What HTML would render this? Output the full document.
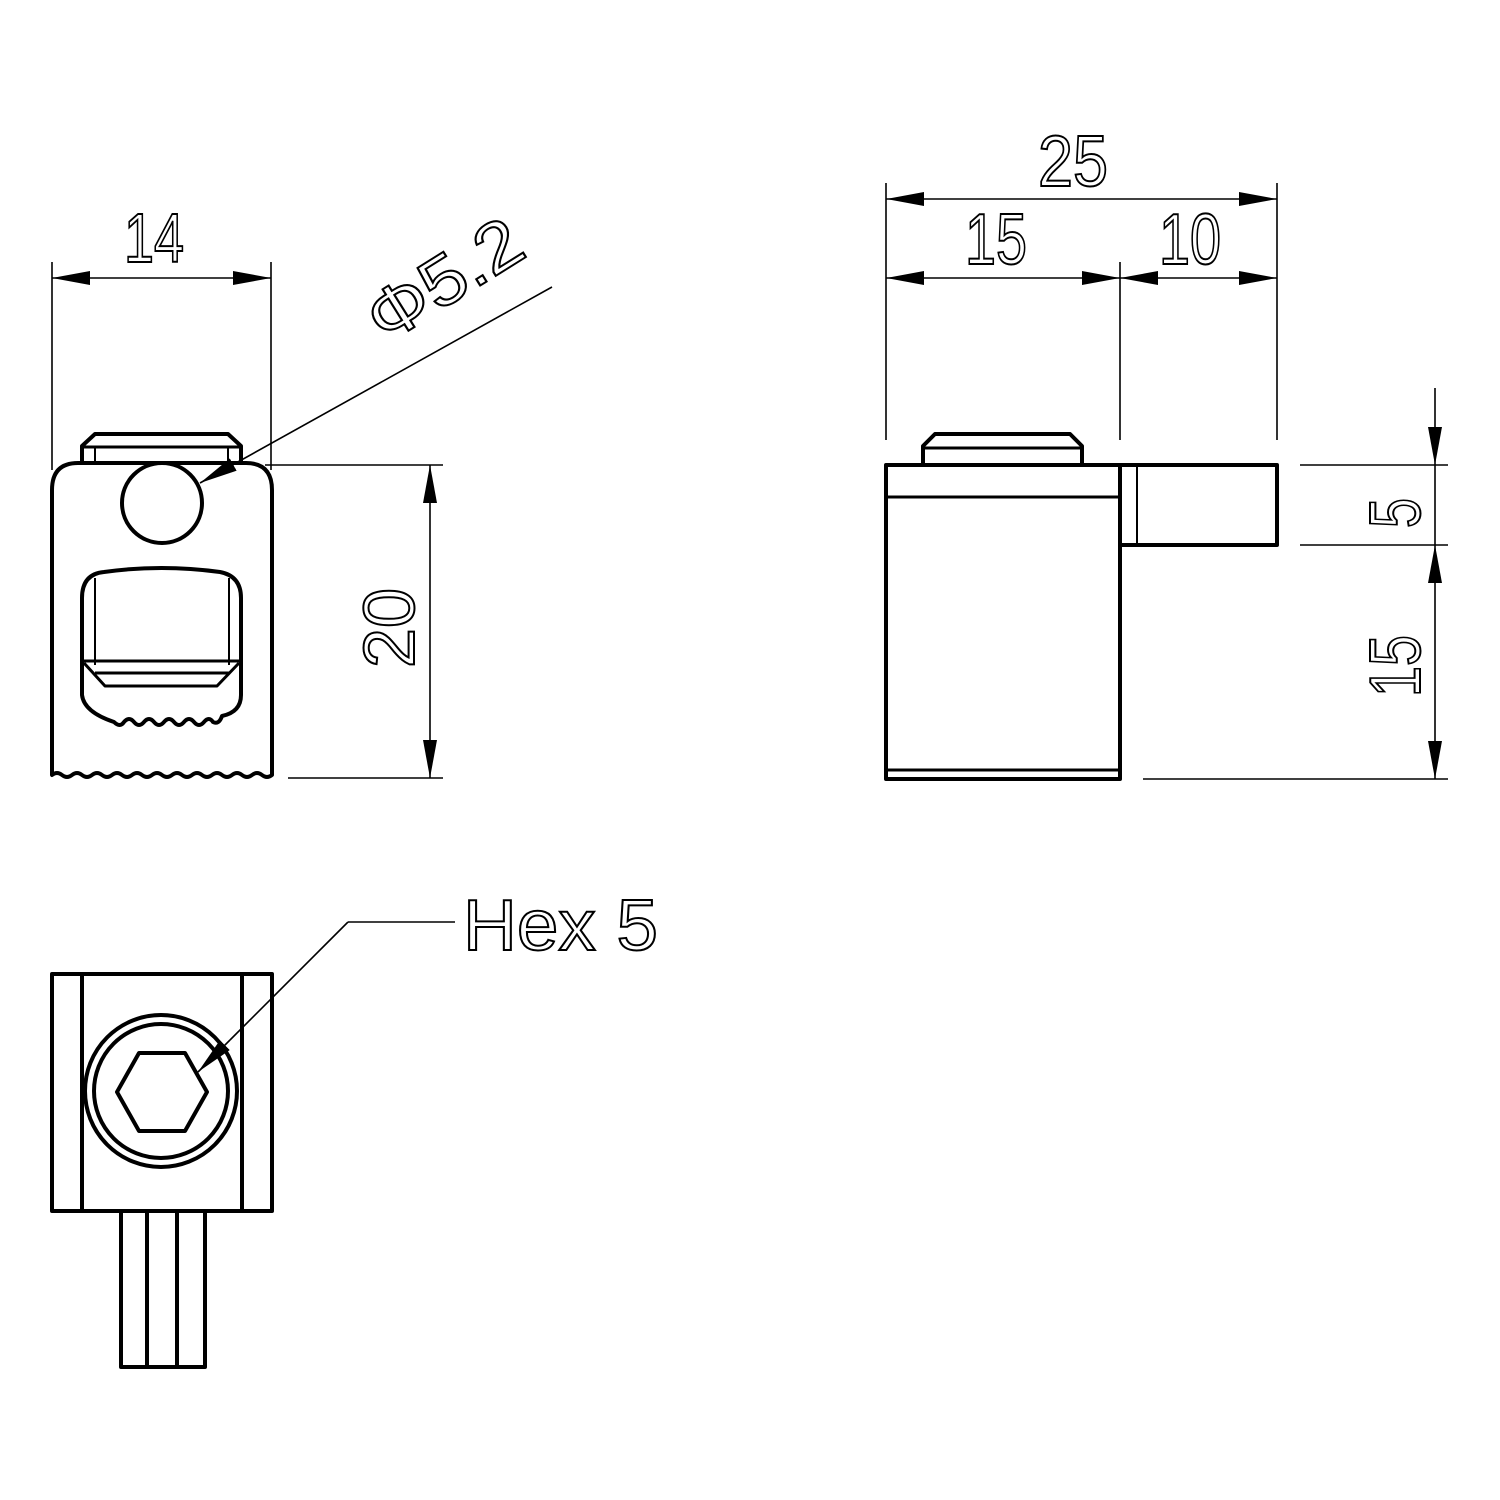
<!DOCTYPE html>
<html><head><style>body{margin:0;background:#fff}svg{display:block}
text{font-family:"Liberation Sans",sans-serif;font-weight:normal;fill:none;stroke:#000;stroke-width:2}</style></head>
<body>
<svg width="1500" height="1500" viewBox="0 0 1500 1500" xmlns="http://www.w3.org/2000/svg">
<defs>
<marker id="a" viewBox="0 0 38 14" refX="38" refY="7" markerWidth="38" markerHeight="14" markerUnits="userSpaceOnUse" orient="auto"><path d="M0,0 L38,7 L0,14Z" fill="#000"/></marker>
</defs>
<g fill="none" stroke="#000" stroke-width="1.6">
<!-- view 1 dims -->
<line x1="52" y1="262" x2="52" y2="470"/><line x1="271" y1="262" x2="271" y2="470"/>
<line x1="160" y1="278" x2="52" y2="278" marker-end="url(#a)"/><line x1="160" y1="278" x2="271" y2="278" marker-end="url(#a)"/>
<line x1="552" y1="287" x2="236" y2="463"/><line x1="236" y1="463" x2="200" y2="483" marker-end="url(#a)"/>
<line x1="265" y1="465" x2="443" y2="465"/><line x1="288" y1="778" x2="443" y2="778"/>
<line x1="430" y1="620" x2="430" y2="465" marker-end="url(#a)"/><line x1="430" y1="620" x2="430" y2="778" marker-end="url(#a)"/>
<!-- view 2 dims -->
<line x1="886" y1="183" x2="886" y2="440"/><line x1="1277" y1="183" x2="1277" y2="440"/><line x1="1120" y1="262" x2="1120" y2="440"/>
<line x1="1080" y1="199" x2="886" y2="199" marker-end="url(#a)"/><line x1="1080" y1="199" x2="1277" y2="199" marker-end="url(#a)"/>
<line x1="1000" y1="278" x2="886" y2="278" marker-end="url(#a)"/><line x1="1000" y1="278" x2="1120" y2="278" marker-end="url(#a)"/>
<line x1="1200" y1="278" x2="1120" y2="278" marker-end="url(#a)"/><line x1="1200" y1="278" x2="1277" y2="278" marker-end="url(#a)"/>
<line x1="1300" y1="465" x2="1448" y2="465"/><line x1="1300" y1="545" x2="1448" y2="545"/><line x1="1143" y1="779" x2="1448" y2="779"/>
<line x1="1435" y1="388" x2="1435" y2="465" marker-end="url(#a)"/><line x1="1435" y1="465" x2="1435" y2="545"/>
<line x1="1435" y1="660" x2="1435" y2="545" marker-end="url(#a)"/><line x1="1435" y1="660" x2="1435" y2="779" marker-end="url(#a)"/>
<!-- hex leader -->
<line x1="455" y1="922" x2="348" y2="922"/><line x1="348" y1="922" x2="230" y2="1040"/><line x1="230" y1="1040" x2="198" y2="1072" marker-end="url(#a)"/>
</g>
<g fill="none" stroke="#000" stroke-width="4" stroke-linejoin="round">
<path d="M82,463 V446 L95,434 H228 L241,446 V463"/><line x1="82" y1="447" x2="241" y2="447" stroke-width="3"/>
<line x1="95" y1="447" x2="95" y2="463" stroke-width="2"/><line x1="228" y1="447" x2="228" y2="463" stroke-width="2"/>
<path d="M52,775 V490 Q52,463 78,463 H246 Q272,463 272,490 V775 q-5,4 -10,0 q-5,-4 -10,0 q-5,4 -10,0 q-5,-4 -10,0 q-5,4 -10,0 q-5,-4 -10,0 q-5,4 -10,0 q-5,-4 -10,0 q-5,4 -10,0 q-5,-4 -10,0 q-5,4 -10,0 q-5,-4 -10,0 q-5,4 -10,0 q-5,-4 -10,0 q-5,4 -10,0 q-5,-4 -10,0 q-5,4 -10,0 q-5,-4 -10,0 q-5,4 -10,0 q-5,-4 -10,0 q-5,4 -10,0 q-5,-4 -10,0 Z"/>
<circle cx="162" cy="503" r="40"/>
<path d="M82,695 V598 Q82,574 104,572 Q161,564 220,572 Q241,576 241,598 V695 Q241,712 222,716 q-3,9 -9,6 q-4,-6 -9,0 q-5,6 -10,0 q-5,-6 -10,0 q-5,6 -10,0 q-5,-6 -10,0 q-5,6 -10,0 q-5,-6 -10,0 q-5,6 -10,0 q-5,-6 -10,0 q-4,6 -10,0 Q84,712 82,695 Z"/>
<line x1="95" y1="578" x2="95" y2="665" stroke-width="2"/><line x1="229" y1="578" x2="229" y2="665" stroke-width="2"/>
<line x1="84" y1="661" x2="240" y2="661" stroke-width="3"/>
<path d="M84,663 L105,686 H217 L239,663" stroke-width="3"/><line x1="95" y1="673" x2="229" y2="673" stroke-width="3"/>
<path d="M923,465 V446 L935,434 H1070 L1082,446 V465"/><line x1="923" y1="448" x2="1082" y2="448" stroke-width="3"/>
<rect x="886" y="465" width="234" height="314"/><line x1="886" y1="497" x2="1120" y2="497" stroke-width="3"/><line x1="886" y1="770" x2="1120" y2="770" stroke-width="3"/>
<path d="M1120,465 H1277 V545 H1120"/><line x1="1137" y1="465" x2="1137" y2="545" stroke-width="2"/>
<rect x="52" y="974" width="220" height="237"/><line x1="82" y1="974" x2="82" y2="1211"/><line x1="242" y1="974" x2="242" y2="1211"/>
<circle cx="161" cy="1091" r="76"/><circle cx="161" cy="1091" r="67"/>
<path d="M117,1092 L139,1053 H185 L207,1092 L185,1131 H139 Z"/>
<path d="M121,1211 V1367 H205 V1211"/><line x1="147" y1="1211" x2="147" y2="1367"/><line x1="177" y1="1211" x2="177" y2="1367"/>
</g>
<text x="154" y="262" font-size="70" text-anchor="middle" textLength="60" lengthAdjust="spacingAndGlyphs">14</text>
<text transform="translate(385,345) rotate(-32)" font-size="70" textLength="170" lengthAdjust="spacingAndGlyphs">Φ5.2</text>
<text transform="translate(414,628) rotate(-90)" font-size="72" text-anchor="middle" textLength="80" lengthAdjust="spacingAndGlyphs">20</text>
<text x="1073" y="186" font-size="72" text-anchor="middle" textLength="70" lengthAdjust="spacingAndGlyphs">25</text>
<text x="996" y="264" font-size="72" text-anchor="middle" textLength="62" lengthAdjust="spacingAndGlyphs">15</text>
<text x="1190" y="264" font-size="72" text-anchor="middle" textLength="62" lengthAdjust="spacingAndGlyphs">10</text>
<text transform="translate(1420,513) rotate(-90)" font-size="72" text-anchor="middle" textLength="30" lengthAdjust="spacingAndGlyphs">5</text>
<text transform="translate(1420,666) rotate(-90)" font-size="72" text-anchor="middle" textLength="62" lengthAdjust="spacingAndGlyphs">15</text>
<text x="463" y="950" font-size="72" textLength="195" lengthAdjust="spacingAndGlyphs">Hex 5</text>
</svg>
</body></html>
